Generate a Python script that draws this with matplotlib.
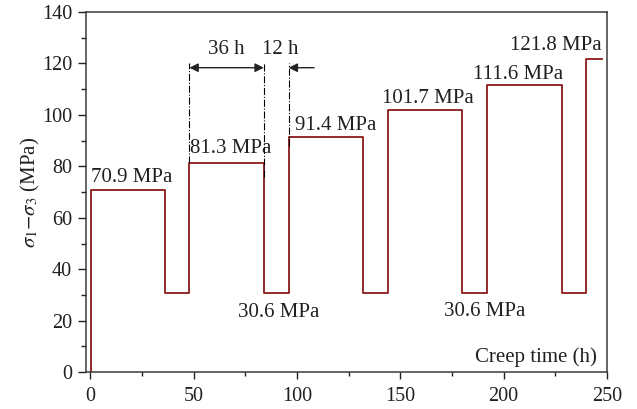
import matplotlib
matplotlib.use("Agg")
import matplotlib.pyplot as plt

# Creep loading stages: start time (h) and deviatoric stress (MPa)
stage_start = [0, 36, 48, 84, 96, 132, 144, 180, 192, 228, 240]
stage_stress = [70.9, 30.6, 81.3, 30.6, 91.4, 30.6, 101.7, 30.6, 111.6, 30.6, 121.8]
test_end = 247.5

stress_labels = ["70.9 MPa", "81.3 MPa", "91.4 MPa", "101.7 MPa", "111.6 MPa", "121.8 MPa"]
unload_labels = ["30.6 MPa", "30.6 MPa"]

plt.rcParams["font.family"] = ["Liberation Serif", "DejaVu Serif"]
plt.rcParams["mathtext.fontset"] = "stix"

text_c = "#231f20"
line_c = "#8b1a1a"

fig = plt.figure(figsize=(6.37, 4.09), dpi=100)
ax = fig.add_axes([0.135, 0.09, 0.818, 0.881])

t = [0.3] + [max(s, 0.3) for s in stage_start] + [test_end]
s = [0.0] + stage_stress + [stage_stress[-1]]
ax.plot(t, s, drawstyle="steps-post", color=line_c, lw=1.3)

ax.set_xlim(-2, 250)
ax.set_ylim(0, 140)
ax.set_xticks([0, 50, 100, 150, 200, 250])
ax.set_xticks([25, 75, 125, 175, 225], minor=True)
ax.set_yticks(range(0, 141, 20))
ax.set_yticks(range(10, 140, 20), minor=True)
ax.tick_params(axis="x", which="both", direction="out", colors=text_c, labelsize=14.5, pad=6)
ax.tick_params(axis="x", which="major", length=5, width=1)
ax.tick_params(axis="x", which="minor", length=3, width=1)
ax.tick_params(axis="y", which="both", direction="out", colors=text_c, labelsize=14.5, pad=4)
ax.tick_params(axis="y", which="major", length=6, width=1)
ax.tick_params(axis="y", which="minor", length=3.5, width=1)
for sp in ax.spines.values():
    sp.set_color("#3a3a3a")
    sp.set_linewidth(1.1)

ax.set_ylabel(r"$\sigma_1$$-$$\sigma_3$ (MPa)", fontsize=15, color=text_c)
ax.yaxis.set_label_coords(-0.085, 0.5)
ax.text(245, 4, "Creep time (h)", ha="right", va="baseline", fontsize=15, color=text_c)

# Loading level labels
fs = 15
ax.text(0.5, 74, stress_labels[0], ha="left", va="baseline", fontsize=fs, color=text_c)
ax.text(48.4, 85, stress_labels[1], ha="left", va="baseline", fontsize=fs, color=text_c)
ax.text(99, 94.2, stress_labels[2], ha="left", va="baseline", fontsize=fs, color=text_c)
ax.text(141, 104.7, stress_labels[3], ha="left", va="baseline", fontsize=fs, color=text_c)
ax.text(185, 114, stress_labels[4], ha="left", va="baseline", fontsize=fs, color=text_c)
ax.text(247.6, 125.2, stress_labels[5], ha="right", va="baseline", fontsize=fs, color=text_c)
ax.text(71.6, 21.3, unload_labels[0], ha="left", va="baseline", fontsize=fs, color=text_c)
ax.text(171, 22, unload_labels[1], ha="left", va="baseline", fontsize=fs, color=text_c)

# Duration markers for one loading/unloading cycle
for x0, y0 in [(48, 81.3), (84, 76), (96, 88)]:
    ax.plot([x0, x0], [y0, 120.2], color="black", lw=0.8, ls="-.")
ax.annotate("", xy=(48, 118.3), xytext=(84, 118.3),
            arrowprops=dict(arrowstyle="<|-|>", color="#222222", lw=1.0,
                            shrinkA=0, shrinkB=0, mutation_scale=13))
ax.annotate("", xy=(96, 118.3), xytext=(108.3, 118.3),
            arrowprops=dict(arrowstyle="-|>", color="#222222", lw=1.0,
                            shrinkA=0, shrinkB=0, mutation_scale=13))
ax.text(66, 123.7, "36 h", ha="center", va="baseline", fontsize=fs, color=text_c)
ax.text(92, 123.7, "12 h", ha="center", va="baseline", fontsize=fs, color=text_c)

fig.savefig("out.png", dpi=100)
